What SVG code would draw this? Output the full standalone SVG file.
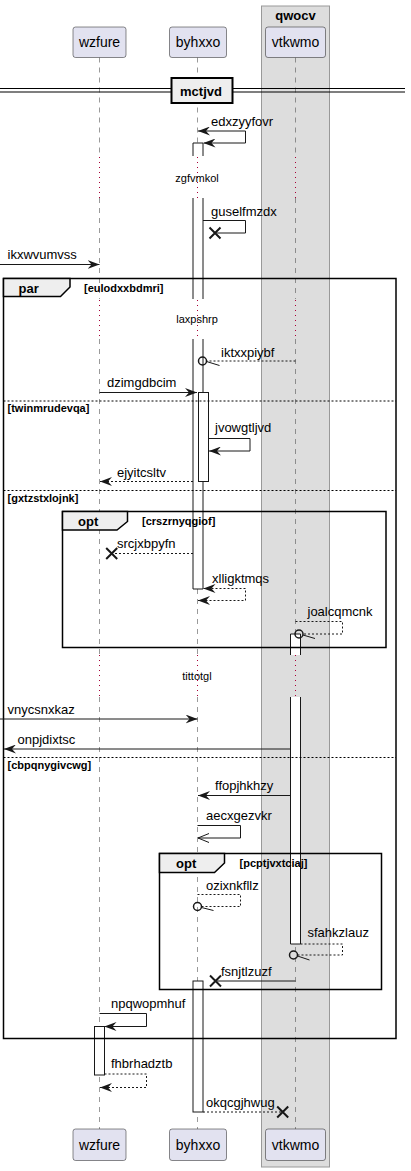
<svg xmlns="http://www.w3.org/2000/svg" width="411" height="1171" viewBox="0 0 411 1171">
<style>
text{font-family:"Liberation Sans",Arial,sans-serif;fill:#000}
.msg{font-size:13px}
.dly{font-size:11px}
.pt{font-size:14px}
.ft{font-size:13px;font-weight:bold}
.cd{font-size:11px;font-weight:bold}
.life{stroke:#555;stroke-width:0.6;stroke-dasharray:5,5;fill:none}
.dot{stroke:#A80036;stroke-width:1;stroke-dasharray:1,4;fill:none}
.part{fill:#E2E2F0;stroke:#181818;stroke-width:0.5}
.act{fill:#fff;stroke:#181818;stroke-width:1}
.actf{fill:#fff;stroke:none}
.actl{fill:none;stroke:#181818;stroke-width:1}
.frame{fill:none;stroke:#000;stroke-width:1.5}
.tab{fill:#EEEEEE;stroke:#000;stroke-width:1.5}
.sep{stroke:#000;stroke-width:1;stroke-dasharray:2,2}
.m{fill:none;stroke:#181818;stroke-width:1}
.d{fill:none;stroke:#181818;stroke-width:1;stroke-dasharray:2,2}
.x{fill:none;stroke:#181818;stroke-width:2}
.o{fill:none;stroke:#181818;stroke-width:1.5}
.f{marker-end:url(#ah)}
.b{marker-start:url(#ah);marker-end:url(#ah)}
.op{marker-end:url(#oa)}
</style>
<defs>
<marker id="ah" viewBox="0 0 12 9" refX="12" refY="4.5" markerWidth="12" markerHeight="9" markerUnits="userSpaceOnUse" orient="auto-start-reverse"><path d="M0,0 L12,4.5 L0,9 L4,4.5 Z" fill="#181818" stroke="none"/></marker>
<marker id="oa" viewBox="0 0 12 10" refX="11" refY="5" markerWidth="12" markerHeight="10" markerUnits="userSpaceOnUse" orient="auto"><path d="M0,0.5 L11,5 L0,9.5" fill="none" stroke="#181818" stroke-width="1"/></marker>
<path id="xm" d="M-5.5,-5.5 L5.5,5.5 M-5.5,5.5 L5.5,-5.5" class="x"/>
</defs>

<g id="box-qwocv">
<rect x="261.5" y="6" width="68" height="1161" fill="#DDDDDD" stroke="#999" stroke-width="1"/>
<text class="ft" x="295.5" y="19.5" text-anchor="middle">qwocv</text>
</g>

<g id="lifelines">
<path class="life" d="M99.5,57.5 V156 M99.5,198 V299 M99.5,339 V655 M99.5,697 V1129"/>
<path class="life" d="M197.5,57.5 V156 M197.5,198 V299 M197.5,339 V655 M197.5,697 V1129"/>
<path class="life" d="M295.5,57.5 V156 M295.5,198 V299 M295.5,339 V655 M295.5,697 V1129"/>
<path class="dot" d="M99.5,157 V198 M197.5,157 V198 M295.5,157 V198 M99.5,300 V339 M197.5,300 V339 M295.5,300 V339 M99.5,655 V697 M197.5,655 V697 M295.5,655 V697"/>
</g>

<g id="activations">
<rect class="actf" x="193" y="143" width="10" height="13"/>
<rect class="actf" x="193" y="198" width="10" height="101"/>
<rect class="actf" x="193" y="339" width="10" height="250"/>
<path class="actl" d="M193,156 V143 H203 V156 M193,198 V299 M203,198 V299 M193,339 V589 H203 V339"/>
<rect class="act" x="198.5" y="392.5" width="10" height="89"/>
<rect class="actf" x="290.5" y="634" width="10" height="21"/>
<rect class="actf" x="290.5" y="697" width="10" height="247"/>
<path class="actl" d="M290.5,655 V634 H300.5 V655 M290.5,697 V944 H300.5 V697"/>
<rect class="act" x="193" y="981" width="10" height="131"/>
<rect class="act" x="94.5" y="1026.5" width="10" height="48.5"/>
</g>

<g id="frame-par">
<rect class="frame" x="3.5" y="278.5" width="392.5" height="760"/>
<path class="tab" d="M3.5,278.5 H70 V287 L60.5,296.5 H3.5 Z"/>
<text class="ft" x="18.5" y="293">par</text>
<text class="cd" x="84" y="292">[eulodxxbdmri]</text>
<line class="sep" x1="3.5" y1="401" x2="396" y2="401"/>
<text class="cd" x="7.5" y="412">[twinmrudevqa]</text>
<line class="sep" x1="3.5" y1="490.5" x2="396" y2="490.5"/>
<text class="cd" x="7.5" y="502">[gxtzstxlojnk]</text>
<line class="sep" x1="3.5" y1="757.5" x2="396" y2="757.5"/>
<text class="cd" x="7.5" y="769">[cbpqnygivcwg]</text>
</g>

<g id="frame-opt1">
<rect class="frame" x="62.5" y="511.5" width="323.5" height="136"/>
<path class="tab" d="M62.5,511.5 H127.5 V521.5 L117,530 H62.5 Z"/>
<text class="ft" x="78" y="526">opt</text>
<text class="cd" x="142" y="525">[crszrnyqgiof]</text>
</g>

<g id="frame-opt2">
<rect class="frame" x="159.5" y="853.5" width="222" height="136"/>
<path class="tab" d="M159.5,853.5 H224.5 V863 L214.5,872.5 H159.5 Z"/>
<text class="ft" x="176" y="867.5">opt</text>
<text class="cd" x="239.5" y="867">[pcptjvxtciaj]</text>
</g>

<g id="connectors">
<path class="m b" d="M203.5,143 H245.5 V131 H198"/>
<path class="m" d="M203,220.5 H245.5 V233 H216"/>
<use href="#xm" x="215" y="233"/>
<path class="m f" d="M0,264.5 H99.5"/>
<path class="d" d="M295.5,361 H207"/>
<circle class="o" cx="202.5" cy="361" r="4"/>
<path class="m" d="M206.5,361.5 L219.5,365.5"/>
<path class="m f" d="M99.5,392.5 H197"/>
<path class="m f" d="M208.5,438.5 H250 V451 H209"/>
<path class="d f" d="M193,481.5 H100"/>
<path class="d" d="M193,553.5 H113"/>
<use href="#xm" x="111.7" y="553.5"/>
<path class="d b" d="M203.5,588.5 H245.5 V600.5 H198"/>
<path class="d" d="M295.5,621.5 H342.5 V634 H303.5"/>
<circle class="o" cx="299" cy="634" r="4"/>
<path class="m" d="M303,635 L315,638.5"/>
<path class="m f" d="M0,719 H197.5"/>
<path class="m f" d="M290.5,749 H4"/>
<path class="m f" d="M290.5,795.5 H198"/>
<path class="m op" d="M197.5,825.5 H240.5 V838 H198"/>
<path class="d" d="M197.5,894.5 H240.5 V906.5 H201.5"/>
<circle class="o" cx="197.5" cy="906.5" r="4"/>
<path class="m" d="M201.5,907.5 L213.5,910.5"/>
<path class="d" d="M300.5,944 H342.5 V955 H297.5"/>
<circle class="o" cx="293.5" cy="955" r="4"/>
<path class="m" d="M297.5,956 L309.5,960"/>
<path class="m" d="M295.5,981 H217"/>
<use href="#xm" x="215.5" y="981"/>
<path class="m f" d="M99.5,1013.5 H146.5 V1026.5 H104.5"/>
<path class="d f" d="M104.5,1074 H146.5 V1087.5 H100"/>
<path class="d" d="M203,1112 H281"/>
<use href="#xm" x="282.7" y="1112"/>
</g>

<g id="labels">
<text class="msg" x="211" y="126">edxzyyfovr</text>
<text class="dly" x="197" y="182" text-anchor="middle">zgfvmkol</text>
<text class="msg" x="211" y="216">guselfmzdx</text>
<text class="msg" x="7.5" y="259">ikxwvumvss</text>
<text class="dly" x="197" y="323" text-anchor="middle">laxpshrp</text>
<text class="msg" x="221" y="356.5">iktxxpiybf</text>
<text class="msg" x="107" y="386.5">dzimgdbcim</text>
<text class="msg" x="215" y="432">jvowgtljvd</text>
<text class="msg" x="117" y="477">ejyitcsltv</text>
<text class="msg" x="117" y="547.5">srcjxbpyfn</text>
<text class="msg" x="212" y="583">xlligktmqs</text>
<text class="msg" x="307.5" y="616">joalcqmcnk</text>
<text class="dly" x="197" y="680" text-anchor="middle">tittotgl</text>
<text class="msg" x="7.5" y="713.5">vnycsnxkaz</text>
<text class="msg" x="17.5" y="743.5">onpjdixtsc</text>
<text class="msg" x="215" y="789.5">ffopjhkhzy</text>
<text class="msg" x="206" y="820">aecxgezvkr</text>
<text class="msg" x="206" y="889.5">ozixnkfllz</text>
<text class="msg" x="307.5" y="937">sfahkzlauz</text>
<text class="msg" x="221" y="976">fsnjtlzuzf</text>
<text class="msg" x="111" y="1008">npqwopmhuf</text>
<text class="msg" x="111" y="1068">fhbrhadztb</text>
<text class="msg" x="206" y="1107">okqcgjhwug</text>
</g>

<g id="divider-mctjvd">
<line x1="0" y1="88.5" x2="405" y2="88.5" stroke="#000" stroke-width="1.2"/>
<line x1="0" y1="92" x2="405" y2="92" stroke="#000" stroke-width="1.2"/>
<rect x="171.5" y="78" width="61" height="25" fill="#EEEEEE" stroke="#000" stroke-width="2"/>
<text class="ft" x="201" y="95.5" text-anchor="middle">mctjvd</text>
</g>

<g id="p-wzfure">
<rect class="part" x="73" y="27" width="53" height="30.5" rx="2.5"/>
<text class="pt" x="99.5" y="47" text-anchor="middle">wzfure</text>
<rect class="part" x="73" y="1129" width="53" height="31.5" rx="2.5"/>
<text class="pt" x="99.5" y="1149.5" text-anchor="middle">wzfure</text>
</g>
<g id="p-byhxxo">
<rect class="part" x="169.5" y="27" width="57" height="30.5" rx="2.5"/>
<text class="pt" x="198" y="47" text-anchor="middle">byhxxo</text>
<rect class="part" x="169.5" y="1129" width="57" height="31.5" rx="2.5"/>
<text class="pt" x="198" y="1149.5" text-anchor="middle">byhxxo</text>
</g>
<g id="p-vtkwmo">
<rect class="part" x="265.5" y="27" width="60" height="30.5" rx="2.5"/>
<text class="pt" x="295.5" y="47" text-anchor="middle">vtkwmo</text>
<rect class="part" x="265.5" y="1129" width="60" height="31.5" rx="2.5"/>
<text class="pt" x="295.5" y="1149.5" text-anchor="middle">vtkwmo</text>
</g>
</svg>
